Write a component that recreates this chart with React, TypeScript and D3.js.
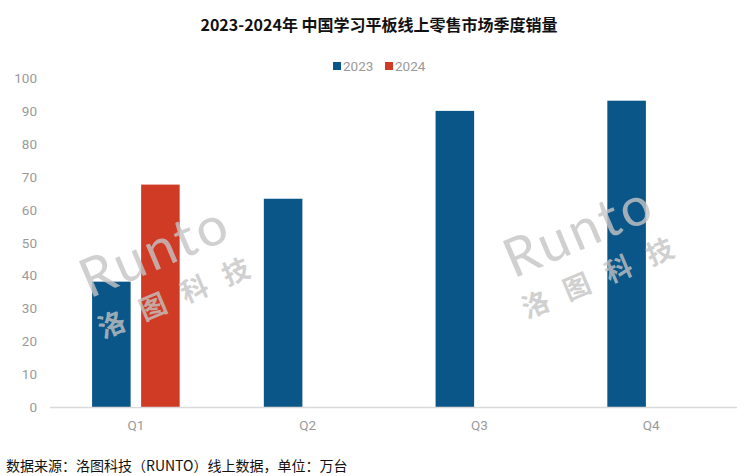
import React from "react";
import * as d3 from "d3";

const quarters = ["Q1", "Q2", "Q3", "Q4"];
const seriesNames = ["2023", "2024"];
const values2023 = [38.1, 63.3, 90.0, 93.1];
const values2024: (number | null)[] = [67.6, null, null, null];
const yTicks = [0, 10, 20, 30, 40, 50, 60, 70, 80, 90, 100];
const colors = ["#0b5688", "#d03b25"];
const title = "2023-2024年 中国学习平板线上零售市场季度销量";
const footer = "数据来源：洛图科技（RUNTO）线上数据，单位：万台";

const W = 746;
const H = 476;
const left = 50;
const right = 737;
const y0 = 407;
const y100 = 78;

function Watermark({ x, y }: { x: number; y: number }) {
  return (
    <g transform={`translate(${x},${y}) rotate(-23)`} pointerEvents="none">
      <text
        x={0}
        y={0}
        fontFamily="Lato, 'DejaVu Sans', sans-serif"
        fontSize={54}
        fontWeight={400}
        fill="#c4c4c4"
        fillOpacity={0.8}
        textAnchor="middle"
        letterSpacing={3}
      >
        Runto
      </text>
      <text
        x={8}
        y={42}
        fontFamily="'Noto Sans CJK SC', sans-serif"
        fontSize={27}
        fontWeight={700}
        fill="#c4c4c4"
        fillOpacity={0.8}
        textAnchor="middle"
        letterSpacing={18}
      >
        洛图科技
      </text>
    </g>
  );
}

export default function App() {
  const x0 = d3
    .scaleBand<string>()
    .domain(quarters)
    .range([left, right])
    .paddingInner(0.49)
    .paddingOuter(0.245);
  const x1 = d3
    .scaleBand<string>()
    .domain(seriesNames)
    .range([0, x0.bandwidth()])
    .paddingInner(0.214)
    .paddingOuter(0);
  const y = d3.scaleLinear().domain([0, 100]).range([y0, y100]);

  const data = [values2023, values2024];

  return (
    <svg
      width={W}
      height={H}
      style={{ position: "absolute", left: 0, top: 0, background: "#fff" }}
      fontFamily="Roboto, 'Noto Sans CJK SC', sans-serif"
    >
      <rect width={W} height={H} fill="#fff" />
      <text
        x={379}
        y={31}
        textAnchor="middle"
        fontSize={16}
        fontWeight={700}
        fontFamily="'Noto Sans CJK SC', sans-serif"
        fill="#111"
      >
        {title}
      </text>

      {/* legend */}
      <g>
        <rect x={333} y={62} width={8} height={8} fill={colors[0]} />
        <text x={343} y={71} fontSize={13.5} fill="#9a9a9a">
          2023
        </text>
        <rect x={385} y={62} width={8} height={8} fill={colors[1]} />
        <text x={395} y={71} fontSize={13.5} fill="#9a9a9a">
          2024
        </text>
      </g>

      {/* y axis labels */}
      {yTicks.map((t) => (
        <text
          key={t}
          x={37}
          y={y(t) + 5}
          textAnchor="end"
          fontSize={13.5}
          fill="#9a9a9a"
        >
          {t}
        </text>
      ))}

      {/* bars */}
      {quarters.map((q, i) => (
        <g key={q} transform={`translate(${x0(q)},0)`}>
          {seriesNames.map((s, si) => {
            const v = data[si][i];
            if (v == null) return null;
            return (
              <rect
                key={s}
                x={x1(s)}
                y={y(v)}
                width={x1.bandwidth()}
                height={y0 - y(v)}
                fill={colors[si]}
              />
            );
          })}
        </g>
      ))}

      {/* baseline */}
      <line x1={left} x2={right} y1={y0 + 0.5} y2={y0 + 0.5} stroke="#d9d9d9" strokeWidth={1.5} />

      {/* x labels */}
      {quarters.map((q) => (
        <text
          key={q}
          x={(x0(q) as number) + x0.bandwidth() / 2}
          y={430}
          textAnchor="middle"
          fontSize={13.5}
          fill="#9a9a9a"
        >
          {q}
        </text>
      ))}

      <Watermark x={162} y={268} />
      <Watermark x={586} y={248} />

      <text
        x={6}
        y={471}
        fontSize={14}
        fontFamily="'Noto Sans CJK SC', sans-serif"
        fill="#111"
      >
        {footer}
      </text>
    </svg>
  );
}
